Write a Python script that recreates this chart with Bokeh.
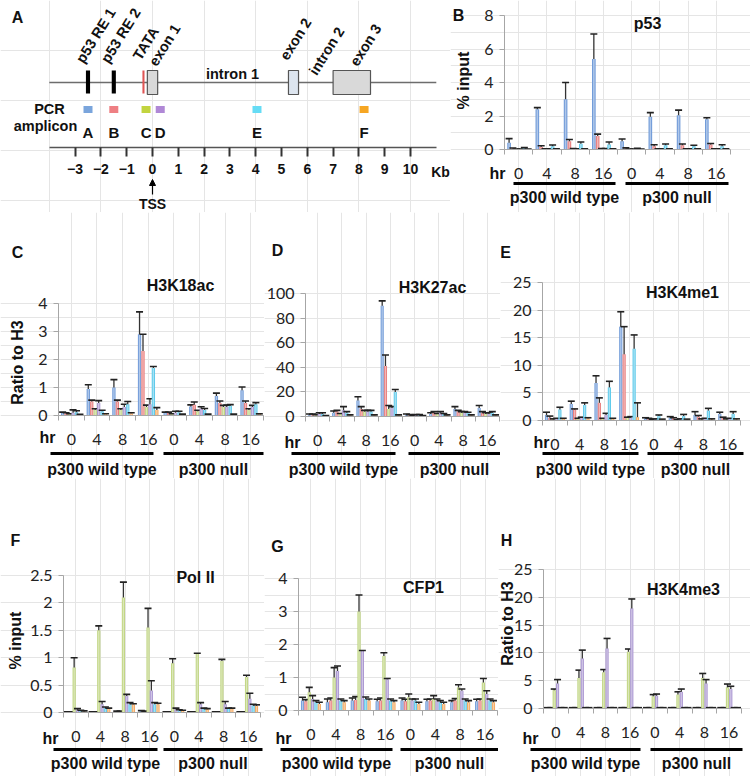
import numpy as np
from bokeh.plotting import figure
from bokeh.layouts import row, column
from bokeh.models import (Range1d, LinearAxis, FixedTicker, ColumnDataSource,
                          Arrow, NormalHead, NumeralTickFormatter)
from bokeh.core.properties import value
from bokeh.embed import file_html
from bokeh.resources import INLINE

# ---------------- data ----------------
AMPLICONS = ["A", "B", "C", "D", "E", "F"]
AMP_COLORS = ["#7aa5dc", "#ee7f83", "#c2d43f", "#b088d6", "#66dcf5", "#f6a623"]
BAR_COLORS = ["#6f9ad8", "#e87c7c", "#bfd47f", "#a894d0", "#5cc9ea", "#f4a65c"]
HOURS = ["0", "4", "8", "16", "0", "4", "8", "16"]
GENOTYPES = ["p300 wild type", "p300 null"]

# gene diagram (kb relative to TSS)
gene_span = [-4.0, 11.0]
re_kb = [-2.5, -1.5]
tata_kb = [-0.35]
exon_left = [-0.2, 5.27, 7.0]
exon_right = [0.2, 5.66, 8.45]
exon_fill = ["#d9d9d9", "#dde5ef", "#d9d9d9"]
amp_kb = [-2.5, -1.5, -0.25, 0.3, 4.05, 8.2]
ruler_ticks = list(range(-3, 11))

# bar charts: rows = amplicons A-F, columns = wt 0,4,8,16 h, null 0,4,8,16 h
p53_mean = [[0.40, 2.40, 3.00, 5.40, 0.50, 1.95, 2.05, 1.80],
            [0.06, 0.15, 0.50, 0.80, 0.06, 0.20, 0.25, 0.30],
            [0.02, 0.03, 0.04, 0.04, 0.02, 0.03, 0.03, 0.03],
            [0.02, 0.03, 0.03, 0.04, 0.02, 0.03, 0.03, 0.03],
            [0.08, 0.20, 0.35, 0.30, 0.05, 0.25, 0.20, 0.20],
            [0.02, 0.03, 0.03, 0.03, 0.02, 0.03, 0.03, 0.03]]
p53_err = [[0.25, 0.10, 1.00, 1.50, 0.13, 0.25, 0.30, 0.10],
           [0.03, 0.07, 0.10, 0.12, 0.04, 0.08, 0.08, 0.06],
           [0.01, 0.01, 0.01, 0.01, 0.01, 0.01, 0.01, 0.01],
           [0.01, 0.01, 0.01, 0.01, 0.01, 0.01, 0.01, 0.01],
           [0.03, 0.07, 0.10, 0.15, 0.02, 0.08, 0.05, 0.08],
           [0.01, 0.01, 0.01, 0.01, 0.01, 0.01, 0.01, 0.01]]
p53_ticks = [0, 2, 4, 6, 8]

k18_mean = [[0.10, 0.95, 1.00, 2.90, 0.10, 0.32, 0.70, 0.90],
            [0.08, 0.50, 0.50, 2.30, 0.10, 0.38, 0.45, 0.45],
            [0.05, 0.20, 0.20, 0.30, 0.05, 0.15, 0.30, 0.20],
            [0.10, 0.45, 0.30, 0.40, 0.10, 0.25, 0.30, 0.30],
            [0.12, 0.15, 0.40, 1.70, 0.12, 0.20, 0.35, 0.40],
            [0.03, 0.05, 0.08, 0.20, 0.04, 0.04, 0.04, 0.05]]
k18_err = [[0.02, 0.15, 0.28, 0.80, 0.02, 0.06, 0.10, 0.12],
           [0.02, 0.05, 0.05, 0.60, 0.02, 0.10, 0.07, 0.07],
           [0.01, 0.04, 0.04, 0.07, 0.01, 0.04, 0.06, 0.04],
           [0.10, 0.08, 0.10, 0.20, 0.05, 0.06, 0.07, 0.06],
           [0.05, 0.04, 0.10, 0.05, 0.03, 0.05, 0.04, 0.06],
           [0.01, 0.01, 0.02, 0.08, 0.01, 0.01, 0.01, 0.01]]
k18_ticks = [0, 1, 2, 3, 4]

k27_mean = [[1.0, 3.0, 13.0, 90.0, 1.0, 2.0, 6.0, 7.0],
            [1.0, 4.0, 6.0, 41.0, 1.0, 3.0, 4.0, 3.0],
            [1.0, 2.0, 4.0, 6.0, 0.5, 2.0, 3.0, 2.0],
            [2.0, 5.0, 4.0, 7.0, 1.0, 3.0, 3.0, 2.0],
            [2.0, 3.0, 4.0, 20.0, 1.0, 2.0, 3.0, 3.0],
            [0.5, 1.0, 1.0, 1.0, 0.5, 1.0, 1.0, 1.0]]
k27_err = [[1.0, 1.5, 3.0, 4.0, 1.0, 1.0, 2.0, 2.0],
           [1.0, 1.0, 2.0, 9.0, 0.5, 1.0, 1.0, 1.0],
           [0.5, 0.5, 1.0, 3.0, 0.3, 0.5, 1.0, 1.0],
           [1.0, 3.0, 1.0, 1.0, 0.5, 1.0, 1.0, 1.0],
           [1.0, 1.0, 1.0, 2.0, 0.5, 0.5, 0.5, 1.0],
           [0.2, 0.3, 0.3, 0.3, 0.2, 0.3, 0.3, 0.3]]
k27_ticks = [0, 20, 40, 60, 80, 100]

k4me1_mean = [[1.0, 3.0, 6.8, 17.0, 0.4, 0.5, 1.0, 1.2],
              [0.5, 2.0, 3.2, 12.0, 0.3, 0.4, 0.7, 0.5],
              [0.2, 0.3, 0.3, 0.5, 0.1, 0.1, 0.2, 0.2],
              [0.3, 0.5, 1.0, 0.5, 0.2, 0.2, 0.3, 0.3],
              [2.0, 2.8, 6.0, 13.0, 0.8, 0.8, 1.8, 1.2],
              [0.3, 0.4, 0.3, 0.6, 0.2, 0.2, 0.2, 0.2]]
k4me1_err = [[0.5, 0.5, 1.3, 2.7, 0.1, 0.2, 0.6, 0.3],
             [0.3, 0.1, 0.9, 5.0, 0.1, 0.1, 0.2, 0.1],
             [0.1, 0.1, 0.1, 0.1, 0.05, 0.05, 0.1, 0.1],
             [0.1, 0.1, 0.3, 0.2, 0.1, 0.1, 0.1, 0.1],
             [0.4, 0.4, 1.1, 2.5, 0.2, 0.3, 0.4, 0.4],
             [0.1, 0.1, 0.1, 2.6, 0.05, 0.05, 0.1, 0.1]]
k4me1_ticks = [0, 5, 10, 15, 20, 25]

pol2_mean = [[0.01, 0.01, 0.02, 0.03, 0.01, 0.01, 0.01, 0.01],
             [0.01, 0.01, 0.02, 0.02, 0.01, 0.01, 0.01, 0.01],
             [0.82, 1.50, 2.10, 1.55, 0.90, 1.07, 0.94, 0.65],
             [0.05, 0.15, 0.30, 0.40, 0.06, 0.15, 0.15, 0.25],
             [0.03, 0.08, 0.15, 0.15, 0.04, 0.07, 0.07, 0.13],
             [0.02, 0.07, 0.15, 0.15, 0.03, 0.06, 0.07, 0.12]]
pol2_err = [[0.005, 0.005, 0.005, 0.005, 0.005, 0.005, 0.005, 0.005],
            [0.005, 0.005, 0.005, 0.005, 0.005, 0.005, 0.005, 0.005],
            [0.18, 0.08, 0.28, 0.35, 0.08, 0.01, 0.03, 0.03],
            [0.02, 0.05, 0.03, 0.18, 0.02, 0.03, 0.05, 0.10],
            [0.01, 0.02, 0.03, 0.03, 0.01, 0.01, 0.01, 0.02],
            [0.01, 0.01, 0.01, 0.02, 0.01, 0.01, 0.01, 0.02]]
pol2_ticks = [0, 0.5, 1, 1.5, 2, 2.5]

cfp1_mean = [[0.30, 0.25, 0.30, 0.28, 0.30, 0.28, 0.25, 0.28],
             [0.28, 0.30, 0.32, 0.30, 0.28, 0.30, 0.30, 0.30],
             [0.55, 1.00, 3.00, 1.65, 0.40, 0.35, 0.70, 0.85],
             [0.35, 1.20, 1.80, 0.95, 0.30, 0.30, 0.60, 0.50],
             [0.25, 0.30, 0.35, 0.30, 0.30, 0.25, 0.30, 0.30],
             [0.20, 0.25, 0.30, 0.25, 0.20, 0.20, 0.25, 0.25]]
cfp1_err = [[0.10, 0.10, 0.08, 0.06, 0.08, 0.06, 0.05, 0.06],
            [0.05, 0.08, 0.10, 0.08, 0.06, 0.05, 0.06, 0.05],
            [0.15, 0.30, 0.50, 0.10, 0.10, 0.10, 0.08, 0.12],
            [0.10, 0.15, 0.02, 0.02, 0.05, 0.05, 0.05, 0.10],
            [0.05, 0.05, 0.06, 0.05, 0.05, 0.05, 0.05, 0.05],
            [0.05, 0.05, 0.05, 0.05, 0.05, 0.05, 0.05, 0.05]]
cfp1_ticks = [0, 1, 2, 3, 4]

k4me3_mean = [[0.1, 0.1, 0.1, 0.1, 0.1, 0.1, 0.1, 0.1],
              [0.1, 0.1, 0.1, 0.1, 0.1, 0.1, 0.1, 0.1],
              [3.3, 5.5, 6.5, 10.2, 2.2, 2.5, 5.5, 3.8],
              [4.5, 9.0, 10.8, 18.0, 2.3, 3.0, 4.5, 3.5],
              [0.1, 0.1, 0.1, 0.1, 0.1, 0.1, 0.1, 0.1],
              [0.1, 0.1, 0.1, 0.1, 0.1, 0.1, 0.1, 0.1]]
k4me3_err = [[0.05, 0.05, 0.05, 0.05, 0.05, 0.05, 0.05, 0.05],
             [0.05, 0.05, 0.05, 0.05, 0.05, 0.05, 0.05, 0.05],
             [0.2, 1.4, 0.5, 0.5, 0.3, 0.5, 0.8, 0.6],
             [0.7, 1.5, 1.8, 1.7, 0.3, 0.5, 0.7, 0.5],
             [0.05, 0.05, 0.05, 0.05, 0.05, 0.05, 0.05, 0.05],
             [0.05, 0.05, 0.05, 0.05, 0.05, 0.05, 0.05, 0.05]]
k4me3_ticks = [0, 5, 10, 15, 20, 25]

# ---------------- styling ----------------
BOLD = "Liberation Sans"
TICKF = "Lato"
AXIS_GREY = "#a6a6a6"
BW = 0.135


def lighten(hexcol, f=0.5):
    h = hexcol.lstrip("#")
    r, g, b = (int(h[i:i + 2], 16) for i in (0, 2, 4))
    r, g, b = (int(c + (255 - c) * f) for c in (r, g, b))
    return "#%02x%02x%02x" % (r, g, b)


def txt(p, x, y, s, size="16px", angle=0.0, align="center", baseline="middle", bold=True, font=BOLD):
    p.text(x=[x], y=[y], text=[s], angle=angle, text_align=align, text_baseline=baseline,
           text_font=value(font), text_font_size=size,
           text_font_style="bold" if bold else "normal", text_color="#111111")


def bar_panel(box, frame, ticks, means, errs, title, letter, ylabel, hr, under_y,
              wt_span, null_span, glabel_y):
    fx0, fy0, fx1, fy1 = box
    ax_px, right_px, y0_px, ytop_px = frame
    ymax = ticks[-1]
    ppx = (right_px - ax_px) / 8.0
    ppy = (y0_px - ytop_px) / ymax
    X = lambda px: 0.5 + (px - ax_px) / ppx
    Y = lambda py: (y0_px - py) / ppy
    p = figure(width=fx1 - fx0, height=fy1 - fy0,
               x_range=Range1d(X(fx0), X(fx1)), y_range=Range1d(Y(fy1), Y(fy0)),
               output_backend="svg", toolbar_location=None,
               x_axis_location=None, y_axis_location=None, min_border=0)
    p.outline_line_color = None
    p.background_fill_color = "white"
    p.border_fill_color = "white"

    centers = np.arange(1, 9)
    offs = (np.arange(6) - 2.5) * BW
    cap = 3.5 / ppx
    for i in range(6):
        m = np.array(means[i], dtype=float)
        e = np.array(errs[i], dtype=float)
        xs = centers + offs[i]
        src = ColumnDataSource(dict(x=xs, top=m, et=m + e, cl=xs - cap, cr=xs + cap))
        p.vbar(x="x", top="top", bottom=0, width=BW * 0.95, source=src,
               fill_color=BAR_COLORS[i], line_color=None)
        p.vbar(x="x", top="top", bottom=0, width=BW * 0.4, source=src,
               fill_color=lighten(BAR_COLORS[i], 0.45), line_color=None)
        p.segment(x0="x", x1="x", y0="top", y1="et", source=src, line_color="#333333", line_width=1.3)
        p.segment(x0="cl", x1="cr", y0="et", y1="et", source=src, line_color="#222222", line_width=1.6)

    yax = LinearAxis(fixed_location=0.5, bounds=(0, ymax), ticker=FixedTicker(ticks=ticks),
                     formatter=NumeralTickFormatter(format="0.[0]"),
                     major_tick_out=5, major_tick_in=0, minor_tick_out=0, minor_tick_in=0,
                     axis_line_color=AXIS_GREY, major_tick_line_color=AXIS_GREY,
                     major_label_text_font=TICKF, major_label_text_font_size="16px",
                     major_label_text_color="#222222", major_label_standoff=6)
    p.add_layout(yax, "left")
    xax = LinearAxis(fixed_location=0, bounds=(0.5, 8.5),
                     ticker=FixedTicker(ticks=[1, 2, 3, 4, 5, 6, 7, 8],
                                        minor_ticks=[0.5, 1.5, 2.5, 3.5, 4.5, 5.5, 6.5, 7.5, 8.5]),
                     major_label_overrides={i + 1: h for i, h in enumerate(HOURS)},
                     major_tick_out=0, major_tick_in=0, minor_tick_out=5, minor_tick_in=0,
                     axis_line_color=AXIS_GREY, minor_tick_line_color=AXIS_GREY,
                     major_label_text_font=TICKF, major_label_text_font_size="16px",
                     major_label_text_color="#222222", major_label_standoff=13)
    p.add_layout(xax, "below")

    txt(p, X(title[1]), Y(title[2]), title[0])
    txt(p, X(letter[1]), Y(letter[2]), letter[0])
    if ylabel is not None:
        txt(p, X(ylabel[1]), Y(ylabel[2]), ylabel[0], angle=np.pi / 2)
    txt(p, X(hr[0]), Y(hr[1]), "hr")
    p.segment(x0=[X(wt_span[0]), X(null_span[0])], x1=[X(wt_span[1]), X(null_span[1])],
              y0=[Y(under_y)] * 2, y1=[Y(under_y)] * 2, line_color="black", line_width=3)
    txt(p, X((wt_span[0] + wt_span[1]) / 2), Y(glabel_y), GENOTYPES[0])
    txt(p, X((null_span[0] + null_span[1]) / 2), Y(glabel_y), GENOTYPES[1])
    return p


# ---------------- panel A: gene diagram ----------------
A_BOX = (0, 0, 450, 212)
TSS_PX, KB_PX = 152.0, 25.8
KB = lambda px: (px - TSS_PX) / KB_PX
pa = figure(width=A_BOX[2] - A_BOX[0], height=A_BOX[3] - A_BOX[1],
            x_range=Range1d(KB(A_BOX[0]), KB(A_BOX[2])), y_range=Range1d(-A_BOX[3], -A_BOX[1]),
            output_backend="svg", toolbar_location=None,
            x_axis_location=None, y_axis_location=None, min_border=0)
pa.outline_line_color = None
pa.segment(x0=[gene_span[0]], x1=[gene_span[1]], y0=[-82], y1=[-82], line_color="#6d6d6d", line_width=1.5)
pa.vbar(x=re_kb, width=0.16, top=-70, bottom=-93, fill_color="black", line_color=None)
pa.vbar(x=tata_kb, width=0.08, top=-70, bottom=-93, fill_color="#e05555", line_color=None)
pa.quad(left=exon_left, right=exon_right, top=-70, bottom=-94, fill_color=exon_fill,
        line_color="#555555", line_width=1.2)
pa.rect(x=amp_kb, y=-109, width=9, height=7, width_units="screen", height_units="screen",
        fill_color=AMP_COLORS, line_color=None)
pa.text(x=amp_kb, y=[-132] * 6, text=AMPLICONS, text_align="center", text_baseline="middle",
        text_font=value(BOLD), text_font_size="15px", text_font_style="bold", text_color="#111111")
ruler = LinearAxis(fixed_location=-147, bounds=(gene_span[0], gene_span[1]),
                   ticker=FixedTicker(ticks=ruler_ticks),
                   major_tick_out=9, major_tick_in=0, minor_tick_out=0, minor_tick_in=0,
                   axis_line_color="#555555", axis_line_width=1.5,
                   major_tick_line_color="#333333", major_tick_line_width=2,
                   major_label_text_font=BOLD, major_label_text_font_style="bold",
                   major_label_text_font_size="14px", major_label_text_color="#111111",
                   major_label_standoff=7)
pa.add_layout(ruler, "below")
ANG = np.deg2rad(58)
rot_labels = [("p53 RE 1", 79, 61), ("p53 RE 2", 104, 61), ("TATA", 136, 58), ("exon 1", 152, 64),
              ("exon 2", 283, 58), ("intron 2", 312, 73), ("exon 3", 353, 64)]
for s, px, py in rot_labels:
    txt(pa, KB(px), -py, s, size="14.5px", angle=ANG, align="left")
txt(pa, KB(232), -73, "intron 1", size="14.5px")
txt(pa, KB(49), -108, "PCR", size="14.5px")
txt(pa, KB(45), -125, "amplicon", size="14.5px")
txt(pa, KB(440), -171, "Kb", size="14px")
txt(pa, KB(17), -17, "A", size="16px")
pa.add_layout(Arrow(end=NormalHead(size=6, fill_color="black", line_color="black"),
                    x_start=0, y_start=-194, x_end=0, y_end=-179, line_width=1.2))
txt(pa, 0, -203, "TSS", size="14px")

# ---------------- bar panels ----------------
pb = bar_panel((450, 0, 750, 212), (504, 730, 149, 15), p53_ticks, p53_mean, p53_err,
               ("p53", 647, 23), ("B", 458, 15), ("% input", 463, 80), (497, 173), 183,
               (513, 615), (625, 728), 197)
pc = bar_panel((0, 212, 264, 478), (58, 263, 415, 303), k18_ticks, k18_mean, k18_err,
               ("H3K18ac", 180, 285), ("C", 17, 252), ("Ratio to H3", 17, 362), (47, 437), 453,
               (50, 153), (163, 263), 469)
pd = bar_panel((264, 212, 500, 478), (305, 499, 416, 293), k27_ticks, k27_mean, k27_err,
               ("H3K27ac", 432, 287), ("D", 277, 250), None, (292, 442), 453,
               (291, 395), (408, 500), 469)
pe = bar_panel((500, 212, 750, 478), (542, 740, 420, 282), k4me1_ticks, k4me1_mean, k4me1_err,
               ("H3K4me1", 682, 292), ("E", 505, 252), None, (541, 442), 453,
               (542, 638), (647, 743), 469)
pf = bar_panel((0, 478, 264, 776), (63, 260, 712, 575), pol2_ticks, pol2_mean, pol2_err,
               ("Pol II", 195, 577), ("F", 15, 540), ("% input", 15, 640), (50, 738), 749,
               (53, 157), (163, 262), 763)
pg = bar_panel((264, 478, 498, 776), (298, 497, 710, 578), cfp1_ticks, cfp1_mean, cfp1_err,
               ("CFP1", 423, 587), ("G", 277, 546), None, (283, 738), 749,
               (280, 392), (400, 498), 763)
ph = bar_panel((498, 478, 750, 776), (543, 741, 708, 569), k4me3_ticks, k4me3_mean, k4me3_err,
               ("H3K4me3", 683, 589), ("H", 506, 540), ("Ratio to H3", 507, 623), (530, 738), 749,
               (530, 640), (650, 742), 763)

layout = column(row(pa, pb), row(pc, pd, pe), row(pf, pg, ph))
open("out.html", "w").write(file_html(layout, INLINE))
